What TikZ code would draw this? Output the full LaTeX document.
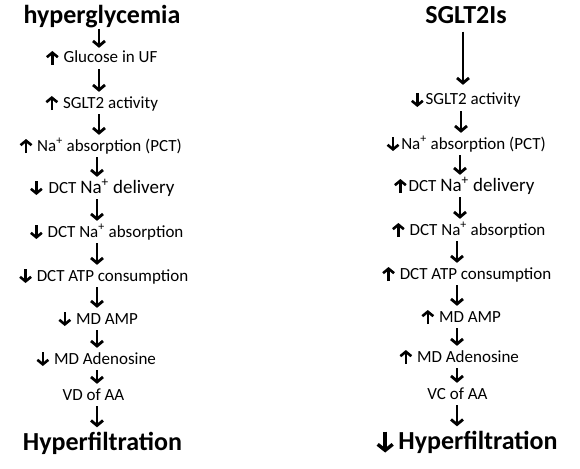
\documentclass[tikz,border=0pt]{standalone}
\usepackage{fontspec}
\setmainfont{Carlito}
\usetikzlibrary{arrows.meta}
\begin{document}
\begin{tikzpicture}[x=1pt,y=-1pt,
  txt/.style={font=\fontsize{17}{20}\selectfont, inner sep=0pt, text height=11pt, text depth=3pt},
  ttl/.style={font=\fontsize{26}{30}\selectfont\bfseries, inner sep=0pt, text height=18pt, text depth=5pt},
  glyph/.style={line width=2.6pt, -{Straight Barb[length=4.5pt,width=11pt]}},
  conn/.style={line width=2.8pt, -{Straight Barb[length=5pt,width=12pt]}, shorten <=3pt, shorten >=5pt},
  upg/.pic={\draw[glyph] (0,2) -- (0,-12);},
  dng/.pic={\draw[glyph] (0,-12) -- (0,2);},
  bigdng/.pic={\draw[line width=3.4pt,-{Straight Barb[length=6pt,width=15pt]}] (0,-18) -- (0,3);}]
\useasboundingbox (0,0) rectangle (580,468);
\coordinate (aL) at (97,0);
\coordinate (aR) at (459,0);
% left column
\node[ttl] (h0) at (102,17) {hyperglycemia};
\node[txt] (g1) at (102,59) {\hspace{17pt}Glucose in UF};
\node[txt] (g2) at (102,104) {\hspace{17pt}SGLT2 activity};
\node[txt] (g3) at (101,147) {\hspace{17pt}Na\textsuperscript{+} absorption (PCT)};
\node[txt] (g4) at (102.5,189) {\hspace{18pt}DCT {\fontsize{19}{22}\selectfont Na\textsuperscript{+} delivery}};
\node[txt] (g5) at (107,233) {\hspace{17pt}DCT Na\textsuperscript{+} absorption};
\node[txt] (g6) at (104,277) {\hspace{17pt}DCT ATP consumption};
\node[txt] (g7) at (98.5,320) {\hspace{17pt}MD AMP};
\node[txt] (g8) at (96.5,360) {\hspace{17pt}MD Adenosine};
\node[txt] (g9) at (93.5,396) {VD of AA};
\node[ttl] (g10) at (102.5,444) {Hyperfiltration};
\foreach \n in {g1,g2,g3} \pic at ([xshift=6pt]\n.base west) {upg};
\foreach \n in {g4,g5,g6,g7,g8} \pic at ([xshift=6pt]\n.base west) {dng};
\draw[conn, shorten <=0pt, shorten >=4pt] ([xshift=2pt]h0.south -| aL) -- ([xshift=2pt]g1.north -| aL);
\draw[conn] ([xshift=2pt]g1.south -| aL) -- ([xshift=2pt]g2.north -| aL);
\draw[conn] ([xshift=2pt]g2.south -| aL) -- ([xshift=2pt]g3.north -| aL);
\draw[conn] (g3.south -| aL) -- (g4.north -| aL);
\draw[conn] (g4.south -| aL) -- (g5.north -| aL);
\draw[conn] (g5.south -| aL) -- (g6.north -| aL);
\draw[conn] (g6.south -| aL) -- (g7.north -| aL);
\draw[conn] (g7.south -| aL) -- (g8.north -| aL);
\draw[conn] (g8.south -| aL) -- (g9.north -| aL);
\draw[conn] (g9.south -| aL) -- (g10.north -| aL);
% right column
\node[ttl] (s0) at (466,17) {SGLT2Is};
\node[txt] (s1) at (466,101) {\hspace{14pt}SGLT2 activity};
\node[txt] (s2) at (466.5,145) {\hspace{14pt}Na\textsuperscript{+} absorption (PCT)};
\node[txt] (s3) at (464.5,187) {\hspace{14pt}DCT {\fontsize{19}{22}\selectfont Na\textsuperscript{+} delivery}};
\node[txt] (s4) at (469,231) {\hspace{17pt}DCT Na\textsuperscript{+} absorption};
\node[txt] (s5) at (467,275) {\hspace{17pt}DCT ATP consumption};
\node[txt] (s6) at (461.5,318) {\hspace{17pt}MD AMP};
\node[txt] (s7) at (459.5,358) {\hspace{17pt}MD Adenosine};
\node[txt] (s8) at (457.5,395) {VC of AA};
\node[ttl] (s9) at (467.5,443) {\hspace{21pt}Hyperfiltration};
\foreach \n in {s1,s2} \pic at ([xshift=6pt]\n.base west) {dng};
\foreach \n in {s3,s4,s5,s6,s7} \pic at ([xshift=6pt]\n.base west) {upg};
\pic at ([xshift=8pt]s9.base west) {bigdng};
\draw[conn, shorten <=3pt, shorten >=9pt] ([xshift=4pt]s0.south -| aR) -- ([xshift=4pt]s1.north -| aR);
\draw[conn] ([xshift=2pt]s1.south -| aR) -- ([xshift=2pt]s2.north -| aR);
\draw[conn] ([xshift=1pt]s2.south -| aR) -- ([xshift=1pt]s3.north -| aR);
\draw[conn] ([xshift=1pt]s3.south -| aR) -- ([xshift=1pt]s4.north -| aR);
\draw[conn] ([xshift=-2pt]s4.south -| aR) -- ([xshift=-2pt]s5.north -| aR);
\draw[conn] ([xshift=-2pt]s5.south -| aR) -- ([xshift=-2pt]s6.north -| aR);
\draw[conn] ([xshift=-2pt]s6.south -| aR) -- ([xshift=-2pt]s7.north -| aR);
\draw[conn] ([xshift=-2pt]s7.south -| aR) -- ([xshift=-2pt]s8.north -| aR);
\draw[conn] ([xshift=-2pt]s8.south -| aR) -- ([xshift=-2pt]s9.north -| aR);
\end{tikzpicture}
\end{document}
